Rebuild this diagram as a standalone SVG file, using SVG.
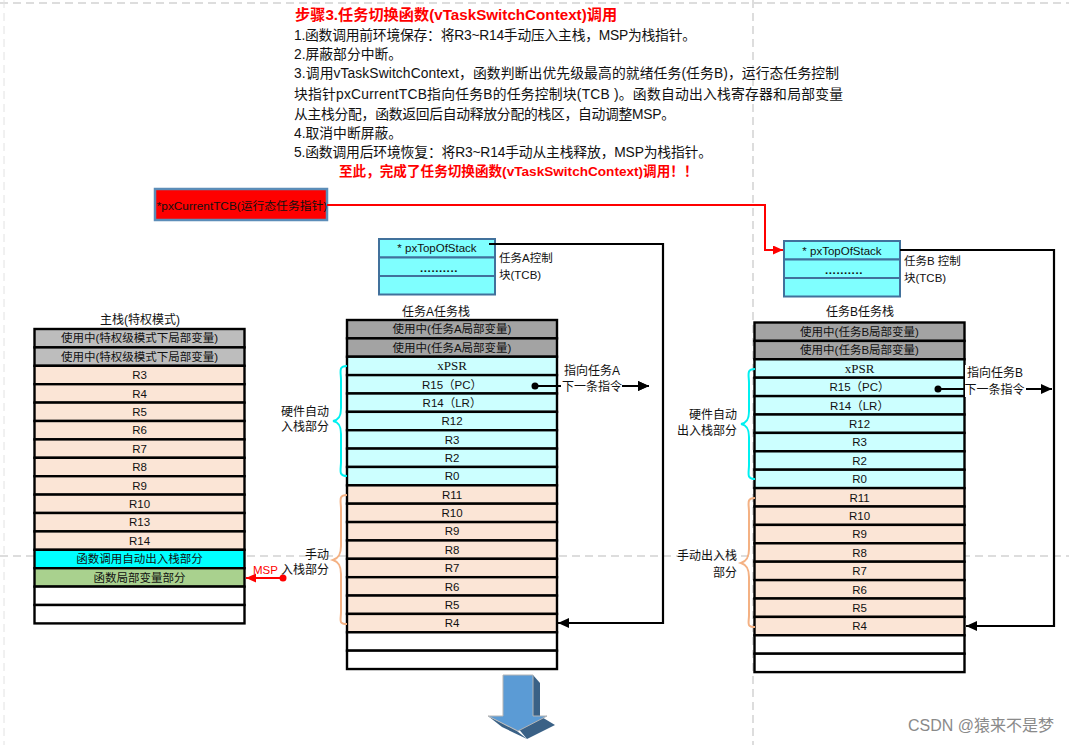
<svg xmlns="http://www.w3.org/2000/svg" width="1069" height="745" viewBox="0 0 1069 745">
<style>
text{font-family:"Liberation Sans","Noto Sans CJK SC",sans-serif;font-size:11.5px;fill:#111}
.c{text-anchor:middle}
.s{font-family:"Liberation Serif","Noto Sans CJK SC",serif;font-size:13px}
.l{font-size:12px}
.t{font-size:13.8px}
.r{fill:#f00;font-weight:bold}
.row{stroke:#000;stroke-width:2.4}
.gray1{fill:#bdbdbd}.gray2{fill:#a3a3a3}.peach{fill:#fbe5d6}.cy{fill:#ccffff}.white{fill:#fff}
.tcb{fill:#7fffff;stroke:#41719c;stroke-width:2}
.guide{stroke:#bbb;stroke-width:1;stroke-dasharray:8 5;fill:none}
.k{stroke:#000;stroke-width:2.2;fill:none}
.red{stroke:#f00;stroke-width:2;fill:none}
.dots{font-weight:bold;letter-spacing:.6px}
</style>
<defs>
<marker id="ak" markerWidth="13" markerHeight="11" refX="11" refY="5" orient="auto" markerUnits="userSpaceOnUse"><path d="M0,0L11,5L0,10z" fill="#000"/></marker>
<marker id="ar" markerWidth="12" markerHeight="10" refX="10" refY="4.5" orient="auto" markerUnits="userSpaceOnUse"><path d="M0,0L10,4.5L0,9z" fill="#f00"/></marker>
</defs>
<rect width="1069" height="745" fill="#fff"/>
<g id="guides">
<path class="guide" d="M0,3H1069M753,0V745M0,556H1069"/>
<path class="guide" style="stroke:#e2e2e2" d="M4,0V745"/>
</g>
<g id="notes">
<text x="295" y="20" class="r" style="font-size:15.2px">步骤3.任务切换函数(vTaskSwitchContext)调用</text>
<text x="294" y="40" class="t" textLength="402">1.函数调用前环境保存：将R3~R14手动压入主栈，MSP为栈指针。</text>
<text x="294" y="59" class="t">2.屏蔽部分中断。</text>
<text x="294" y="78" class="t" textLength="545">3.调用vTaskSwitchContext，函数判断出优先级最高的就绪任务(任务B)，运行态任务控制</text>
<text x="294" y="99" class="t" textLength="549">块指针pxCurrentTCB指向任务B的任务控制块(TCB )。函数自动出入栈寄存器和局部变量</text>
<text x="294" y="119" class="t" textLength="381">从主栈分配，函数返回后自动释放分配的栈区，自动调整MSP。</text>
<text x="294" y="138" class="t">4.取消中断屏蔽。</text>
<text x="294" y="157" class="t" textLength="418">5.函数调用后环境恢复：将R3~R14手动从主栈释放，MSP为栈指针。</text>
<text x="339" y="176" class="r" style="font-size:13.6px">至此，完成了任务切换函数(vTaskSwitchContext)调用！！</text>
</g>
<g id="pxCurrentTCB">
<rect x="155" y="189" width="172" height="31" fill="#f00" stroke="#5b8db8" stroke-width="2.5"/>
<text x="242" y="210" class="c" style="font-size:11.8px">*pxCurrentTCB(运行态任务指针)</text>
</g>
<g id="main-stack">
<text x="140" y="324" class="c l">主栈(特权模式)</text>
<rect class="row gray1" x="34.500" y="329" width="210" height="18.4"/><text x="139.500" y="342.400" class="c">使用中(特权级模式下局部变量)</text>
<rect class="row gray1" x="34.500" y="347.400" width="210" height="18.4"/><text x="139.500" y="360.800" class="c">使用中(特权级模式下局部变量)</text>
<rect class="row peach" x="34.500" y="365.800" width="210" height="18.4"/><text x="139.500" y="379.200" class="c">R3</text>
<rect class="row peach" x="34.500" y="384.200" width="210" height="18.4"/><text x="139.500" y="397.600" class="c">R4</text>
<rect class="row peach" x="34.500" y="402.600" width="210" height="18.4"/><text x="139.500" y="416" class="c">R5</text>
<rect class="row peach" x="34.500" y="421" width="210" height="18.4"/><text x="139.500" y="434.400" class="c">R6</text>
<rect class="row peach" x="34.500" y="439.400" width="210" height="18.4"/><text x="139.500" y="452.800" class="c">R7</text>
<rect class="row peach" x="34.500" y="457.800" width="210" height="18.4"/><text x="139.500" y="471.200" class="c">R8</text>
<rect class="row peach" x="34.500" y="476.200" width="210" height="18.4"/><text x="139.500" y="489.600" class="c">R9</text>
<rect class="row peach" x="34.500" y="494.600" width="210" height="18.4"/><text x="139.500" y="508" class="c">R10</text>
<rect class="row peach" x="34.500" y="513" width="210" height="18.4"/><text x="139.500" y="526.400" class="c">R13</text>
<rect class="row peach" x="34.500" y="531.400" width="210" height="18.4"/><text x="139.500" y="544.800" class="c">R14</text>
<rect class="row" fill="#00ffff" x="34.500" y="549.800" width="210" height="18.4"/><text x="139.500" y="563.200" class="c">函数调用自动出入栈部分</text>
<rect class="row" fill="#a9d18e" x="34.500" y="568.200" width="210" height="18.4"/><text x="139.500" y="581.600" class="c">函数局部变量部分</text>
<rect class="row white" x="34.500" y="586.600" width="210" height="18.4"/>
<rect class="row white" x="34.500" y="605" width="210" height="18.4"/>
</g>
<g id="tcb-a">
<rect class="tcb" x="379" y="239" width="116" height="18.500"/><text x="437" y="252" class="c">* pxTopOfStack</text>
<rect class="tcb" x="379" y="257.500" width="116" height="18.500"/><text x="439" y="272" class="c dots">..........</text>
<rect class="tcb" x="379" y="276" width="116" height="18.500"/>
<text x="499" y="262">任务A控制</text><text x="499" y="279">块(TCB)</text>
</g>
<g id="task-a-stack">
<text x="436" y="316" class="c l">任务A任务栈</text>
<rect class="row gray2" x="347" y="320" width="210" height="18.37"/><text x="452" y="333.400" class="c">使用中(任务A局部变量)</text>
<rect class="row gray2" x="347" y="338.370" width="210" height="18.37"/><text x="452" y="351.700" class="c">使用中(任务A局部变量)</text>
<rect class="row cy" x="347" y="356.740" width="210" height="18.37"/><text x="452" y="370.100" class="c s">xPSR</text>
<rect class="row cy" x="347" y="375.110" width="210" height="18.37"/><text x="452" y="388.500" class="c">R15（PC）</text>
<rect class="row cy" x="347" y="393.480" width="210" height="18.37"/><text x="452" y="406.800" class="c">R14（LR）</text>
<rect class="row cy" x="347" y="411.850" width="210" height="18.37"/><text x="452" y="425.200" class="c">R12</text>
<rect class="row cy" x="347" y="430.220" width="210" height="18.37"/><text x="452" y="443.600" class="c">R3</text>
<rect class="row cy" x="347" y="448.590" width="210" height="18.37"/><text x="452" y="461.900" class="c">R2</text>
<rect class="row cy" x="347" y="466.960" width="210" height="18.37"/><text x="452" y="480.300" class="c">R0</text>
<rect class="row peach" x="347" y="485.330" width="210" height="18.37"/><text x="452" y="498.700" class="c">R11</text>
<rect class="row peach" x="347" y="503.700" width="210" height="18.37"/><text x="452" y="517" class="c">R10</text>
<rect class="row peach" x="347" y="522.070" width="210" height="18.37"/><text x="452" y="535.400" class="c">R9</text>
<rect class="row peach" x="347" y="540.440" width="210" height="18.37"/><text x="452" y="553.800" class="c">R8</text>
<rect class="row peach" x="347" y="558.810" width="210" height="18.37"/><text x="452" y="572.200" class="c">R7</text>
<rect class="row peach" x="347" y="577.180" width="210" height="18.37"/><text x="452" y="590.500" class="c">R6</text>
<rect class="row peach" x="347" y="595.550" width="210" height="18.37"/><text x="452" y="608.900" class="c">R5</text>
<rect class="row peach" x="347" y="613.920" width="210" height="18.37"/><text x="452" y="627.300" class="c">R4</text>
<rect class="row white" x="347" y="632.290" width="210" height="18.37"/>
<rect class="row white" x="347" y="650.660" width="210" height="18.37"/>
</g>
<g id="tcb-b">
<rect class="tcb" x="784" y="241" width="116" height="18.500"/><text x="842" y="255" class="c">* pxTopOfStack</text>
<rect class="tcb" x="784" y="259.500" width="116" height="18.500"/><text x="844" y="274" class="c dots">..........</text>
<rect class="tcb" x="784" y="278" width="116" height="18.500"/>
<text x="904" y="265">任务B 控制</text><text x="904" y="282">块(TCB)</text>
</g>
<g id="task-b-stack">
<text x="860" y="316" class="c l">任务B任务栈</text>
<rect class="row gray2" x="754.500" y="322.500" width="210" height="18.4"/><text x="859.500" y="335.900" class="c">使用中(任务B局部变量)</text>
<rect class="row gray2" x="754.500" y="340.900" width="210" height="18.4"/><text x="859.500" y="354.300" class="c">使用中(任务B局部变量)</text>
<rect class="row cy" x="754.500" y="359.300" width="210" height="18.4"/><text x="859.500" y="372.700" class="c s">xPSR</text>
<rect class="row cy" x="754.500" y="377.700" width="210" height="18.4"/><text x="859.500" y="391.100" class="c">R15（PC）</text>
<rect class="row cy" x="754.500" y="396.100" width="210" height="18.4"/><text x="859.500" y="409.500" class="c">R14（LR）</text>
<rect class="row cy" x="754.500" y="414.500" width="210" height="18.4"/><text x="859.500" y="427.900" class="c">R12</text>
<rect class="row cy" x="754.500" y="432.900" width="210" height="18.4"/><text x="859.500" y="446.300" class="c">R3</text>
<rect class="row cy" x="754.500" y="451.300" width="210" height="18.4"/><text x="859.500" y="464.700" class="c">R2</text>
<rect class="row cy" x="754.500" y="469.700" width="210" height="18.4"/><text x="859.500" y="483.100" class="c">R0</text>
<rect class="row peach" x="754.500" y="488.100" width="210" height="18.4"/><text x="859.500" y="501.500" class="c">R11</text>
<rect class="row peach" x="754.500" y="506.500" width="210" height="18.4"/><text x="859.500" y="519.900" class="c">R10</text>
<rect class="row peach" x="754.500" y="524.900" width="210" height="18.4"/><text x="859.500" y="538.300" class="c">R9</text>
<rect class="row peach" x="754.500" y="543.300" width="210" height="18.4"/><text x="859.500" y="556.700" class="c">R8</text>
<rect class="row peach" x="754.500" y="561.700" width="210" height="18.4"/><text x="859.500" y="575.100" class="c">R7</text>
<rect class="row peach" x="754.500" y="580.100" width="210" height="18.4"/><text x="859.500" y="593.500" class="c">R6</text>
<rect class="row peach" x="754.500" y="598.500" width="210" height="18.4"/><text x="859.500" y="611.900" class="c">R5</text>
<rect class="row peach" x="754.500" y="616.900" width="210" height="18.4"/><text x="859.500" y="630.300" class="c">R4</text>
<rect class="row white" x="754.500" y="635.300" width="210" height="18.4"/>
<rect class="row white" x="754.500" y="653.700" width="210" height="18.4"/>
</g>
<g id="connectors">
<path class="red" d="M327,205H765V250H783" marker-end="url(#ar)"/>
<path class="red" d="M283,578H246" marker-end="url(#ar)"/><circle cx="283" cy="578" r="3.500" fill="#f00"/>
<path class="k" d="M489,244H663V623H558" marker-end="url(#ak)"/>
<path class="k" d="M900,250H1054V626H966" marker-end="url(#ak)"/>
<path class="k" d="M535,386H649" marker-end="url(#ak)"/><circle cx="535" cy="386" r="3.500" fill="#000"/>
<path class="k" d="M938,389H1052" marker-end="url(#ak)"/><circle cx="938" cy="389" r="3.500" fill="#000"/>
<path d="M347,366C338,366 341,372 341,380V408C341,416 339,420 333,421C339,422 341,426 341,434V462C341,470 338,476 347,476" fill="none" stroke="#00f0f0" stroke-width="2"/>
<path d="M347,495C338,495 341,501 341,509V546C341,554 339,558 333,560C339,562 341,566 341,574V612C341,620 338,624 347,624" fill="none" stroke="#f4b183" stroke-width="2"/>
<path d="M755,369C746,369 749,375 749,383V411C749,419 747,423 741,424C747,425 749,429 749,437V465C749,473 746,479 755,479" fill="none" stroke="#00f0f0" stroke-width="2"/>
<path d="M755,498C746,498 749,504 749,512V549C749,557 747,561 741,563C747,565 749,569 749,577V615C749,623 746,627 755,627" fill="none" stroke="#f4b183" stroke-width="2"/>
</g>
<g id="labels">
<text x="253" y="574" style="fill:#f00">MSP</text>
<text x="329" y="559" text-anchor="end" class="l">手动</text><text x="329" y="574" text-anchor="end" class="l">入栈部分</text>
<text x="329" y="416" text-anchor="end" class="l">硬件自动</text><text x="329" y="431" text-anchor="end" class="l">入栈部分</text>
<text x="737" y="419" text-anchor="end" class="l">硬件自动</text><text x="737" y="435" text-anchor="end" class="l">出入栈部分</text>
<text x="677" y="560" class="l">手动出入栈</text><text x="713" y="577" class="l">部分</text>
<rect x="561" y="362" width="62" height="32" fill="#fff"/>
<path class="k" d="M615,386H649" marker-end="url(#ak)"/>
<rect x="561" y="362" width="61" height="32" fill="#fff"/>
<text x="564" y="375" class="l">指向任务A</text><text x="562" y="391" class="l">下一条指令</text>
<rect x="965" y="365" width="61" height="32" fill="#fff"/>
<text x="967" y="377" class="l">指向任务B</text><text x="964.500" y="394" class="l">下一条指令</text>
</g>
<g id="down-arrow">
<path d="M533,675L540,683V716L555,725L527,739L517,727L533,716Z" fill="#3a6186"/>
<path d="M488,716L517,731L527,739L502,727Z" fill="#3a6186"/>
<path d="M503,675H533V716H547L518,731L488,716H503Z" fill="#5b9bd5" stroke="#b5b5b5" stroke-width="1"/>
</g>
<g id="watermark">
<text x="1054" y="731" text-anchor="end" style="font-size:16px;fill:#8a8a8a">CSDN @猿来不是梦</text>
</g>
</svg>
